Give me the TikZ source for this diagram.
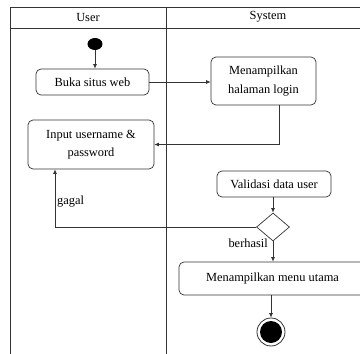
\documentclass[tikz,border=0pt]{standalone}
\usepackage{fontspec}
\setmainfont{Liberation Serif}
\usetikzlibrary{shapes.geometric,arrows.meta}
\begin{document}
\begin{tikzpicture}[x=1pt,y=-1pt,
  line/.style={draw=black!80,line width=0.7pt},
  act/.style={line,rounded corners=5pt,align=center,inner sep=0pt,font=\fontsize{12.4}{18.5}\selectfont},
  lbl/.style={inner sep=0pt,font=\fontsize{12.4}{15}\selectfont},
  flow/.style={line,-{Latex[length=4.5pt,width=4pt]}}]
\useasboundingbox (0,0) rectangle (360,354);
\clip (0,0) rectangle (360,354);
% swimlane frame
\draw[line] (10,360) -- (10,7) -- (370,7) -- (370,360);
\draw[line] (10,28) -- (370,28);
\draw[line] (166,7) -- (166,360);
\node[lbl] (huser) at (88,17) {User};
\node[lbl] (hsys) at (268,17) {System};
% nodes
\node[ellipse,fill=black,minimum width=15pt,minimum height=12pt,inner sep=0pt] (start) at (95,44) {};
\node[act,minimum width=113pt,minimum height=26pt] (buka) at (92.5,82) {Buka situs web};
\node[act,minimum width=105pt,minimum height=48pt] (tampil) at (263.5,81) {Menampilkan\\halaman login};
\node[act,minimum width=126pt,minimum height=49pt] (input) at (91,144.5) {Input username \&\\password};
\node[act,minimum width=114pt,minimum height=26pt] (valid) at (274,184) {Validasi data user};
\node[diamond,line,minimum width=33pt,minimum height=28pt,inner sep=0pt,aspect=1.2] (dec) at (273,227) {};
\node[act,minimum width=187pt,minimum height=33pt] (menu) at (272.5,278.5) {Menampilkan menu utama};
\node[circle,draw=black!80,line width=0.8pt,minimum size=28pt,inner sep=0pt] (end) at (271,332) {};
\node[circle,fill=black,minimum size=22pt,inner sep=0pt] (endin) at (end) {};
% connectors
\draw[flow] (start) -- (start |- buka.north);
\draw[flow] (buka.east) -- (buka.east -| tampil.west);
\draw[flow] ([xshift=15.5pt]tampil.south) |- (input.east);
\draw[flow] (valid.south -| dec.north) -- (dec.north);
\draw[flow] (dec.west) -| ([xshift=-36pt]input.south);
\draw[flow] (dec.south) -- (dec.south |- menu.north);
\draw[flow] (end.north |- menu.south) -- (end.north);
% labels
\node[lbl,anchor=west] (lgagal) at (57,202) {gagal};
\node[lbl,anchor=east] (lberhasil) at (268,243) {berhasil};
\end{tikzpicture}
\end{document}
